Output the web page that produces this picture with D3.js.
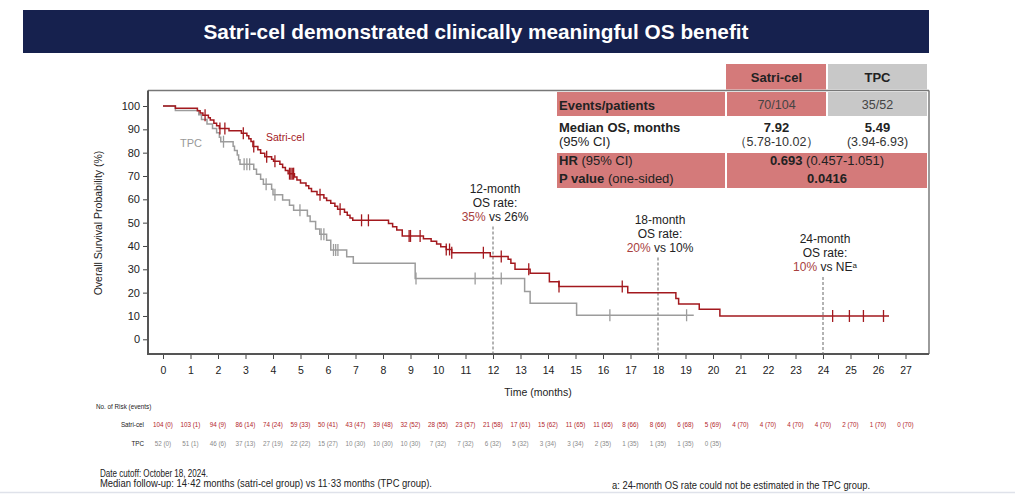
<!DOCTYPE html>
<html><head><meta charset="utf-8">
<script src="https://cdn.jsdelivr.net/npm/d3@7"></script>
<style>
body{margin:0;background:#fff;}
svg{display:block;font-family:"Liberation Sans",Arial,sans-serif;}
</style></head><body>
<svg id="c" width="1015" height="499"></svg>
<script>
// ---------- DATA ----------
const titleText = "Satri-cel demonstrated clinically meaningful OS benefit";
const xTicks = [0,1,2,3,4,5,6,7,8,9,10,11,12,13,14,15,16,17,18,19,20,21,22,23,24,25,26,27];
const yTicks = [0,10,20,30,40,50,60,70,80,90,100];

// Kaplan-Meier steps (months, survival %)
const satriTimes = [0,0.45,1.25,1.35,1.45,1.65,1.72,1.85,1.95,2.05,2.4,2.85,3.05,3.12,3.2,3.27,3.45,3.55,3.7,3.95,4.02,4.25,4.35,4.45,4.55,4.78,4.87,5.0,5.2,5.3,5.4,5.6,5.85,5.95,6.1,6.25,6.35,6.6,6.7,6.8,6.9,8.2,8.35,8.5,8.7,9.47,9.75,9.95,10.1,10.3,10.5,11.9,12.55,12.65,12.8,13.35,14.05,14.4,16.9,18.65,18.75,19.5,20.25,26.4];
const satriSurv  = [100,99.0,98.0,97.0,96.0,95.0,94.0,92.6,91.5,90.4,89.4,88.3,87.2,86.0,84.8,82.6,81.2,79.7,78.3,77.2,76.3,75.0,73.6,72.3,71.0,69.6,68.3,67.0,65.8,64.6,63.3,62.0,60.6,59.5,58.3,57.0,55.7,54.5,53.2,52.0,51.0,49.6,48.2,46.8,44.3,43.1,42.0,40.9,39.7,38.5,37.1,35.5,34.3,32.6,30.0,28.3,24.7,22.6,20.0,17.5,15.1,12.9,10.0,10.0];
const satriCensored = [1.53,2.07,2.25,2.92,3.3,3.77,4.07,4.6,4.65,4.7,4.75,5.71,6.44,7.22,7.47,8.95,9.0,9.35,10.3,10.42,10.5,11.65,12.3,13.3,14.4,16.7,24.35,24.96,25.47,26.2];

const tpcTimes = [0,0.45,1.3,1.4,1.6,1.8,1.95,2.05,2.1,2.55,2.6,2.7,2.75,2.8,3.3,3.4,3.55,3.65,3.95,4.0,4.35,4.6,4.75,5.25,5.35,5.55,5.7,5.95,6.1,6.68,6.92,9.17,13.15,13.35,15.04,19.3];
const tpcSurv  = [100,98.1,96.2,94.2,92.3,90.4,88.5,86.6,84.7,82.8,80.9,79.0,77.0,75.0,72.9,70.7,68.6,66.5,64.3,62.0,59.7,57.5,55.3,52.9,50.5,47.3,45.0,42.5,38.3,35.4,32.6,26.1,20.5,15.4,10.3,10.3];
const tpcCensored = [2.2,2.95,3.05,3.15,3.75,4.07,4.98,5.75,5.85,6.2,6.28,6.36,9.2,11.35,12.3,16.25,19.04];

// Numbers at risk (events)
const satriAtRisk = [104,103,94,86,74,59,50,43,39,32,28,23,21,17,15,11,11,8,8,6,5,4,4,4,4,2,1,0];
const satriEvents = [0,1,9,14,24,33,41,47,48,52,55,57,58,61,62,65,65,66,66,68,69,70,70,70,70,70,70,70];
const tpcAtRisk = [52,51,46,37,27,22,15,10,10,10,7,7,6,5,3,3,2,1,1,1,0];
const tpcEvents = [0,1,6,13,19,22,27,30,30,30,32,32,32,32,34,34,35,35,35,35,35];

// OS-rate call-outs
const osMonths = [12,18,24];
const osSatri = ["35%","20%","10%"];
const osTpc = ["26%","10%","NE"];

// Summary table
const tableGroups = ["Satri-cel","TPC"];
const eventsPatients = ["70/104","35/52"];
const medianOS = ["7.92","5.49"];
const medianCI = ["（5.78-10.02）","(3.94-6.93)"];
const hrValue = "0.693", hrCI = "(0.457-1.051)", pValue = "0.0416";

// ---------- DRAW ----------
const RED = "#a3191e", GREY = "#9c9c9c", PINK = "#d47a7a", CELLGREY = "#c8c8c8";
const svg = d3.select("#c");

// title bar
svg.append("rect").attr("x",23).attr("y",10).attr("width",906).attr("height",43).attr("fill","#16214e");
svg.append("text").attr("x",476).attr("y",32).attr("dy","0.35em").attr("text-anchor","middle")
  .attr("fill","#fff").attr("font-weight","bold").attr("font-size",20)
  .attr("textLength",545).attr("lengthAdjust","spacingAndGlyphs").text(titleText);

const x = d3.scaleLinear().domain([0,27]).range([163,905.5]);
const y = d3.scaleLinear().domain([0,100]).range([339.3,106]);

// frame
const L=148, R=929, T=90.5, B=354;
svg.append("line").attr("x1",L).attr("x2",R).attr("y1",T).attr("y2",T).attr("stroke","#777").attr("stroke-width",1.3);
svg.append("line").attr("x1",R).attr("x2",R).attr("y1",T).attr("y2",B).attr("stroke","#666").attr("stroke-width",1.3);

// axes
const gy = svg.append("g").attr("transform",`translate(${L},0)`)
  .call(d3.axisLeft(y).tickValues(yTicks).tickSize(5).tickPadding(3).tickFormat(d3.format("d")));
gy.select(".domain").remove();
gy.selectAll("text").attr("font-size",11).attr("fill","#222").attr("font-family","Liberation Sans, Arial, sans-serif");
gy.selectAll("line").attr("stroke","#444");
const gx = svg.append("g").attr("transform",`translate(0,${B})`)
  .call(d3.axisBottom(x).tickValues(xTicks).tickSize(5).tickPadding(8).tickFormat(d3.format("d")));
gx.select(".domain").remove();
gx.selectAll("text").attr("font-size",10.5).attr("fill","#222").attr("font-family","Liberation Sans, Arial, sans-serif");
gx.selectAll("line").attr("stroke","#444");
svg.append("line").attr("x1",L).attr("x2",L).attr("y1",T).attr("y2",B+1).attr("stroke","#555").attr("stroke-width",2);
svg.append("line").attr("x1",L-1).attr("x2",R).attr("y1",B).attr("y2",B).attr("stroke","#555").attr("stroke-width",2);

// axis titles
svg.append("text").attr("transform","translate(98,223) rotate(-90)").attr("text-anchor","middle").attr("dy","0.35em")
  .attr("font-size",10.5).attr("fill","#222").text("Overall Survival Probability (%)");
svg.append("text").attr("x",538).attr("y",392).attr("dy","0.35em").attr("text-anchor","middle")
  .attr("font-size",10.5).attr("fill","#222").text("Time (months)");

// dashed guide lines + call-outs
const calloutTop = [188.5,219.5,239];
osMonths.forEach((m,i)=>{
  svg.append("line").attr("x1",x(m)).attr("x2",x(m)).attr("y1",calloutTop[i]+38).attr("y2",B)
    .attr("stroke","#666").attr("stroke-width",1).attr("stroke-dasharray","3,2");
  const cx = x(m)+2;
  const g = svg.append("g").attr("font-size",12).attr("fill","#222").attr("text-anchor","middle");
  g.append("text").attr("x",cx).attr("y",calloutTop[i]).attr("dy","0.35em").text(`${m}-month`);
  g.append("text").attr("x",cx).attr("y",calloutTop[i]+14).attr("dy","0.35em").text("OS rate:");
  const t3 = g.append("text").attr("x",cx).attr("y",calloutTop[i]+28).attr("dy","0.35em");
  t3.append("tspan").attr("fill","#a8403e").text(osSatri[i]);
  t3.append("tspan").text(" vs " + osTpc[i]);
  if (osTpc[i]==="NE") t3.append("tspan").attr("font-size",8).attr("dy","-0.45em").text("a");
});

// curves
function survAt(T,S,t){let v=S[0];for(let i=0;i<T.length;i++){if(T[i]<=t)v=S[i];}return v;}
const line = d3.line().x(d=>x(d[0])).y(d=>y(d[1])).curve(d3.curveStepAfter);
function drawCurve(T,S,C,color){
  const pts = T.map((t,i)=>[t,S[i]]);
  svg.append("path").attr("d",line(pts)).attr("fill","none").attr("stroke",color).attr("stroke-width",1.5);
  svg.append("g").selectAll("line").data(C).join("line")
    .attr("x1",d=>x(d)).attr("x2",d=>x(d))
    .attr("y1",d=>y(survAt(T,S,d))-6).attr("y2",d=>y(survAt(T,S,d))+6)
    .attr("stroke",color).attr("stroke-width",1.3);
}
drawCurve(tpcTimes,tpcSurv,tpcCensored,GREY);
drawCurve(satriTimes,satriSurv,satriCensored,RED);

svg.append("text").attr("x",266).attr("y",137).attr("dy","0.35em").attr("font-size",10.5).attr("fill","#a3191e").text("Satri-cel");
svg.append("text").attr("x",180).attr("y",143).attr("dy","0.35em").attr("font-size",11).attr("fill","#999").text("TPC");

// summary table
const colC = [776.5, 877.5];
svg.append("rect").attr("x",726).attr("y",64).attr("width",100).attr("height",25.5).attr("fill",PINK);
svg.append("rect").attr("x",828).attr("y",64).attr("width",99).attr("height",25.5).attr("fill",CELLGREY);
tableGroups.forEach((g,i)=>svg.append("text").attr("x",colC[i]).attr("y",77).attr("dy","0.35em").attr("text-anchor","middle")
  .attr("font-weight","bold").attr("font-size",13).attr("fill","#222").text(g));
// row 1
svg.append("rect").attr("x",557).attr("y",92).attr("width",168).attr("height",24).attr("fill",PINK);
svg.append("rect").attr("x",727).attr("y",92).attr("width",99).attr("height",24).attr("fill",PINK);
svg.append("rect").attr("x",828).attr("y",92).attr("width",99).attr("height",24).attr("fill",CELLGREY);
svg.append("text").attr("x",559).attr("y",105).attr("dy","0.35em").attr("font-weight","bold").attr("font-size",13).attr("fill","#222").text("Events/patients");
eventsPatients.forEach((v,i)=>svg.append("text").attr("x",colC[i]).attr("y",105).attr("dy","0.35em").attr("text-anchor","middle")
  .attr("font-size",12.5).attr("fill","#444").text(v));
// row 2
svg.append("text").attr("x",559).attr("y",127.5).attr("dy","0.35em").attr("font-weight","bold").attr("font-size",13).attr("fill","#222").text("Median OS, months");
svg.append("text").attr("x",559).attr("y",141.5).attr("dy","0.35em").attr("font-size",13).attr("fill","#222").text("(95% CI)");
medianOS.forEach((v,i)=>svg.append("text").attr("x",colC[i]).attr("y",127.5).attr("dy","0.35em").attr("text-anchor","middle")
  .attr("font-weight","bold").attr("font-size",13).attr("fill","#222").text(v));
medianCI.forEach((v,i)=>svg.append("text").attr("x",colC[i]).attr("y",141.5).attr("dy","0.35em").attr("text-anchor","middle")
  .attr("font-size",12.5).attr("fill","#333").text(v));
// row 3
svg.append("rect").attr("x",557).attr("y",153).attr("width",168).attr("height",35).attr("fill",PINK);
svg.append("rect").attr("x",727).attr("y",153).attr("width",200).attr("height",35).attr("fill",PINK);
const hrT = svg.append("text").attr("x",559).attr("y",160).attr("dy","0.35em").attr("font-size",13).attr("fill","#222");
hrT.append("tspan").attr("font-weight","bold").text("HR");
hrT.append("tspan").text(" (95% CI)");
const pT = svg.append("text").attr("x",559).attr("y",178.5).attr("dy","0.35em").attr("font-size",13).attr("fill","#222");
pT.append("tspan").attr("font-weight","bold").text("P value");
pT.append("tspan").text(" (one-sided)");
const hv = svg.append("text").attr("x",827).attr("y",160).attr("dy","0.35em").attr("text-anchor","middle").attr("font-size",13).attr("fill","#222");
hv.append("tspan").attr("font-weight","bold").text(hrValue);
hv.append("tspan").text(" " + hrCI);
svg.append("text").attr("x",827).attr("y",178.5).attr("dy","0.35em").attr("text-anchor","middle").attr("font-size",13)
  .attr("font-weight","bold").attr("fill","#222").text(pValue);

// number at risk
const rk = svg.append("g").attr("font-size",6.3);
rk.append("text").attr("x",96).attr("y",407).attr("dy","0.35em").attr("fill","#222").text("No. of Risk (events)");
rk.append("text").attr("x",144).attr("y",425).attr("dy","0.35em").attr("text-anchor","end").attr("fill","#222").text("Satri-cel");
rk.append("text").attr("x",144).attr("y",444).attr("dy","0.35em").attr("text-anchor","end").attr("fill","#222").text("TPC");
rk.append("g").selectAll("text").data(satriAtRisk).join("text")
  .attr("x",(d,i)=>x(xTicks[i])).attr("y",425).attr("dy","0.35em").attr("text-anchor","middle").attr("fill","#b3262b")
  .text((d,i)=>`${d} (${satriEvents[i]})`);
rk.append("g").selectAll("text").data(tpcAtRisk).join("text")
  .attr("x",(d,i)=>x(xTicks[i])).attr("y",444).attr("dy","0.35em").attr("text-anchor","middle").attr("fill","#8a8a8a")
  .text((d,i)=>`${d} (${tpcEvents[i]})`);

// footer
const ft = svg.append("g").attr("font-size",10).attr("fill","#222").attr("font-family","Liberation Sans Narrow, Arial Narrow, Liberation Sans, sans-serif");
ft.append("text").attr("x",100).attr("y",473).attr("dy","0.35em").attr("textLength",108).attr("lengthAdjust","spacingAndGlyphs").text("Date cutoff: October 18, 2024.");
ft.append("text").attr("x",100).attr("y",483).attr("dy","0.35em").attr("textLength",332).attr("lengthAdjust","spacingAndGlyphs").text("Median follow-up: 14·42 months (satri-cel group) vs 11·33 months (TPC group).");
ft.append("text").attr("x",612).attr("y",485).attr("dy","0.35em").attr("textLength",258).attr("lengthAdjust","spacingAndGlyphs").text("a: 24-month OS rate could not be estimated in the TPC group.");
svg.append("line").attr("x1",0).attr("x2",1015).attr("y1",492.5).attr("y2",492.5).attr("stroke","#dfe2ea").attr("stroke-width",1.5);
</script>
</body></html>
